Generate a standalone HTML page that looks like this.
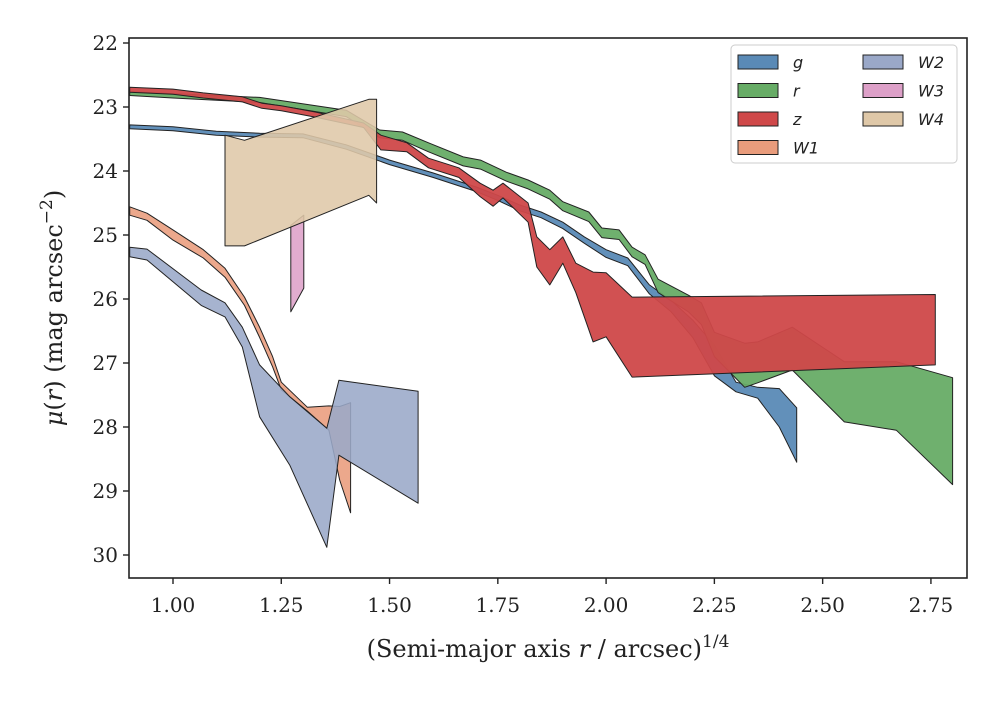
<!DOCTYPE html>
<html><head><meta charset="utf-8"><style>
body{margin:0;background:#fff;}
svg text{font-family:"DejaVu Serif","Liberation Serif",serif;fill:#222;}
</style></head><body>
<svg id="chart" width="1000" height="700" viewBox="0 0 1000 700" xmlns="http://www.w3.org/2000/svg">
<rect x="0" y="0" width="1000" height="700" fill="#fff"/>
<g id="bands"></g>
<rect x="129" y="38" width="838" height="540" fill="none" stroke="#222" stroke-width="1.6"/>
<g id="axes"></g>
<text x="548" y="657" text-anchor="middle" font-size="24">(Semi-major axis <tspan font-style="italic">r</tspan> / arcsec)<tspan dy="-10" font-size="17">1/4</tspan></text>
<text transform="translate(62,308) rotate(-90)" text-anchor="middle" font-size="24"><tspan font-style="italic">μ</tspan>(<tspan font-style="italic">r</tspan>) (mag arcsec<tspan dy="-10" font-size="17">−2</tspan><tspan dy="10">)</tspan></text>
<g id="legend"></g>
</svg>
<script>
const xTicks=[1.00,1.25,1.50,1.75,2.00,2.25,2.50,2.75];
const yTicks=[22,23,24,25,26,27,28,29,30];
const gX=[0.9,1.0,1.1,1.2,1.3,1.4,1.5,1.6,1.7,1.75,1.8,1.85,1.9,1.95,2.0,2.05,2.1,2.15,2.2,2.25,2.3,2.35,2.4,2.44];
const gTop=[23.28,23.31,23.38,23.41,23.42,23.59,23.83,24.03,24.25,24.38,24.53,24.64,24.8,25.03,25.23,25.36,25.78,26.02,26.33,26.72,27.3,27.38,27.4,27.7];
const gBot=[23.34,23.37,23.44,23.47,23.48,23.66,23.9,24.1,24.32,24.46,24.62,24.73,24.9,25.13,25.35,25.48,25.92,26.2,26.6,27.2,27.45,27.55,28.0,28.55];
const rX=[0.9,1.0,1.2,1.4,1.477,1.53,1.59,1.67,1.71,1.77,1.82,1.87,1.9,1.96,1.99,2.03,2.06,2.09,2.12,2.19,2.22,2.25,2.32,2.35,2.43,2.55,2.67,2.8];
const rTop=[22.76,22.79,22.85,23.05,23.36,23.39,23.56,23.78,23.83,24.02,24.14,24.3,24.48,24.64,24.89,24.92,25.19,25.31,25.69,25.94,26.06,26.52,26.69,26.67,26.44,26.98,26.98,27.23];
const rBot=[22.82,22.86,22.93,23.15,23.48,23.52,23.7,23.92,23.97,24.16,24.28,24.44,24.62,24.79,25.04,25.07,25.34,25.46,25.9,26.2,26.4,26.9,27.38,27.31,27.11,27.92,28.05,28.9];
const zX=[0.9,1.0,1.07,1.16,1.205,1.25,1.33,1.44,1.48,1.54,1.59,1.66,1.709,1.739,1.762,1.82,1.84,1.87,1.9,1.93,1.97,2.0,2.06,2.76];
const zTop=[22.69,22.72,22.78,22.84,22.94,22.98,23.08,23.25,23.44,23.56,23.8,23.95,24.19,24.3,24.19,24.5,25.03,25.23,25.03,25.44,25.58,25.59,25.97,25.93];
const zBot=[22.77,22.8,22.86,22.92,23.02,23.06,23.16,23.32,23.67,23.7,23.95,24.1,24.4,24.55,24.42,24.8,25.5,25.78,25.44,25.9,26.67,26.59,27.22,27.03];
const w1X=[0.9,0.94,1.0,1.07,1.12,1.165,1.2,1.23,1.25,1.31,1.36,1.385,1.41];
const w1Top=[24.56,24.66,24.92,25.23,25.52,25.97,26.44,26.9,27.3,27.69,27.67,27.68,27.62];
const w1Bot=[24.69,24.77,25.08,25.36,25.66,26.1,26.6,27.06,27.42,27.75,28.05,28.83,29.34];
const w2X=[0.9,0.94,1.065,1.12,1.16,1.2,1.27,1.355,1.383,1.566];
const w2Top=[25.19,25.22,25.86,26.06,26.44,27.03,27.53,28.02,27.27,27.44];
const w2Bot=[25.34,25.39,26.1,26.28,26.75,27.84,28.6,29.88,28.44,29.19];
const w3X=[1.272,1.302];
const w3Top=[24.85,24.69];
const w3Bot=[26.2,25.83];
const w4X=[1.12,1.165,1.452,1.47];
const w4Top=[23.44,23.52,22.88,22.88];
const w4Bot=[25.17,25.17,24.38,24.5];
const names=['g','r','z','W1','W2','W3','W4'];
const colors=['#5a8ab6','#67ac66','#cf4849','#e99c7c','#9aa8c8','#dda0c8','#dfc8a8'];

const NS='http://www.w3.org/2000/svg';
function sx(v){return 173+(v-1)*433.1;}
function sy(v){return 43+(v-22)*64;}
function mk(tag,attrs,parent){const e=document.createElementNS(NS,tag);for(const k in attrs)e.setAttribute(k,attrs[k]);parent.appendChild(e);return e;}
const bands=document.getElementById('bands');
const series=[[gX,gTop,gBot],[rX,rTop,rBot],[zX,zTop,zBot],[w1X,w1Top,w1Bot],[w2X,w2Top,w2Bot],[w3X,w3Top,w3Bot],[w4X,w4Top,w4Bot]];
series.forEach((s,i)=>{
  const [X,T,B]=s;let pts=[];
  for(let j=0;j<X.length;j++)pts.push(sx(X[j]).toFixed(1)+','+sy(T[j]).toFixed(1));
  for(let j=X.length-1;j>=0;j--)pts.push(sx(X[j]).toFixed(1)+','+sy(B[j]).toFixed(1));
  const p=mk('polygon',{points:pts.join(' '),fill:colors[i],'fill-opacity':i>=3?0.88:0.95,stroke:'#222','stroke-width':1,'stroke-linejoin':'round'},bands);
  
  
});
const axes=document.getElementById('axes');
xTicks.forEach(t=>{
  const l=mk('line',{x1:sx(t),x2:sx(t),y1:578,y2:584,stroke:'#222','stroke-width':1.4},axes);
  
  
  const tx=mk('text',{x:sx(t),y:612,'text-anchor':'middle','font-size':20},axes);
  tx.textContent=t.toFixed(2);
  
  
});
yTicks.forEach(t=>{
  const l=mk('line',{x1:123,x2:129,y1:sy(t),y2:sy(t),stroke:'#222','stroke-width':1.4},axes);
  
  
  const tx=mk('text',{x:118,y:sy(t)+7,'text-anchor':'end','font-size':20},axes);
  tx.textContent=t;
  
  
});
const lg=document.getElementById('legend');
const box=mk('rect',{x:731,y:45,width:226,height:118,rx:4,fill:'#fff','fill-opacity':0.85,stroke:'#ccc','stroke-width':1},lg);


names.forEach((n,i)=>{
  const col=i<4?0:1,row=i<4?i:i-4;
  const x=col?863:738,y=55+row*28.5;
  const r=mk('rect',{x:x,y:y,width:40,height:14,fill:colors[i],stroke:'#222','stroke-width':1},lg);
  
  
  const t=mk('text',{x:x+55,y:y+13,'font-size':16,'font-style':'italic'},lg);
  t.style.fontFamily='"DejaVu Sans","Liberation Sans",sans-serif';
  t.textContent=n;
  
  
});
</script>
</body></html>
